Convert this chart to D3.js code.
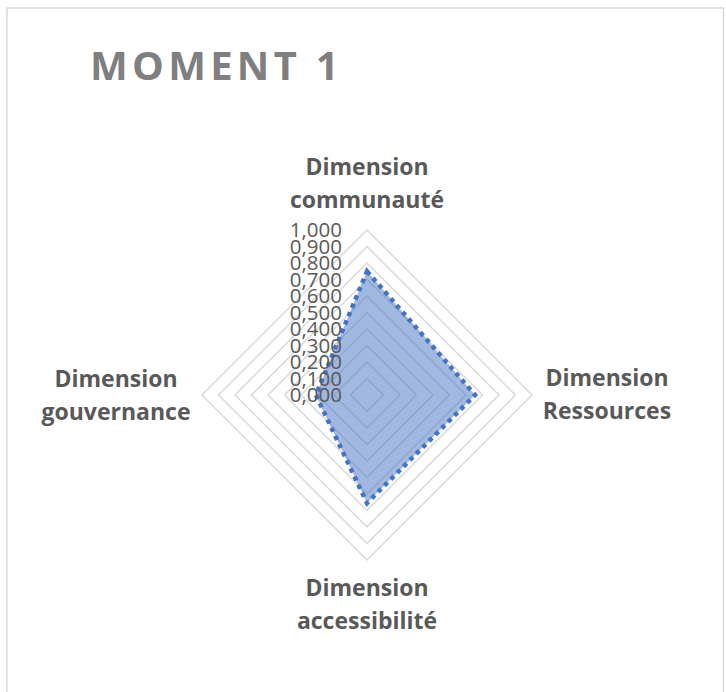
<!DOCTYPE html>
<html>
<head>
<meta charset="utf-8">
<script src="https://cdn.jsdelivr.net/npm/d3@7/dist/d3.min.js"></script>
<style>
html,body{margin:0;padding:0;background:#fff;}
svg{display:block;}
</style>
</head>
<body>
<svg id="chart" width="726" height="692"></svg>
<script>
const title = "MOMENT 1";
const categories = [
  ["Dimension", "communauté"],
  ["Dimension", "Ressources"],
  ["Dimension", "accessibilité"],
  ["Dimension", "gouvernance"]
];
const values = [0.75, 0.655, 0.655, 0.31];
const tickValues = [0, 0.1, 0.2, 0.3, 0.4, 0.5, 0.6, 0.7, 0.8, 0.9, 1.0];
const tickLabels = ["0,000","0,100","0,200","0,300","0,400","0,500","0,600","0,700","0,800","0,900","1,000"];

const svg = d3.select("#chart");
const cx = 367, cy = 395, R = 165;

svg.append("rect").attr("x", 7).attr("y", 8).attr("width", 716.5).attr("height", 700)
  .attr("fill", "#fff").attr("stroke", "#d9d9d9").attr("stroke-width", 1.5);

svg.append("text").attr("x", 90).attr("y", 80)
  .attr("font-family", "Open Sans").attr("font-weight", "bold").attr("font-size", 40)
  .attr("letter-spacing", 4.3).attr("fill", "#7f7f7f").text(title);

const r = d3.scaleLinear().domain([0, 1]).range([0, R]);
const n = categories.length;
const angle = i => i * 2 * Math.PI / n;
const pt = (i, v) => [cx + r(v) * Math.sin(angle(i)), cy - r(v) * Math.cos(angle(i))];

const g = svg.append("g");
tickValues.filter(t => t > 0).forEach(t => {
  g.append("path")
    .attr("d", d3.line()(d3.range(n).map(i => pt(i, t))) + "Z")
    .attr("fill", "none").attr("stroke", "#d9d9d9").attr("stroke-width", 1.5);
});

const poly = d3.range(n).map(i => pt(i, values[i]));
g.append("path").attr("d", d3.line()(poly) + "Z")
  .attr("fill", "#4472c4").attr("fill-opacity", 0.5).attr("stroke", "none");
g.append("path").attr("d", d3.line()(poly) + "Z")
  .attr("fill", "none").attr("stroke", "#4472c4").attr("stroke-width", 4.5)
  .attr("stroke-dasharray", "4.5,4.5").attr("stroke-linejoin", "miter");

tickValues.forEach((t, k) => {
  svg.append("text").attr("x", 342).attr("y", cy - r(t))
    .attr("dy", "0.36em").attr("text-anchor", "end")
    .attr("font-family", "Open Sans").attr("font-size", 20.5)
    .attr("fill", "#595959").text(tickLabels[k]);
});

const labelPos = [
  {x: 367, y: 175},
  {x: 607, y: 386},
  {x: 367, y: 596},
  {x: 116, y: 387}
];
categories.forEach((c, i) => {
  const t = svg.append("text").attr("text-anchor", "middle")
    .attr("font-family", "Open Sans").attr("font-weight", "bold").attr("font-size", 23)
    .attr("fill", "#595959");
  c.forEach((line, j) => {
    t.append("tspan").attr("x", labelPos[i].x).attr("y", labelPos[i].y + j * 33).text(line);
  });
});
</script>
</body>
</html>
